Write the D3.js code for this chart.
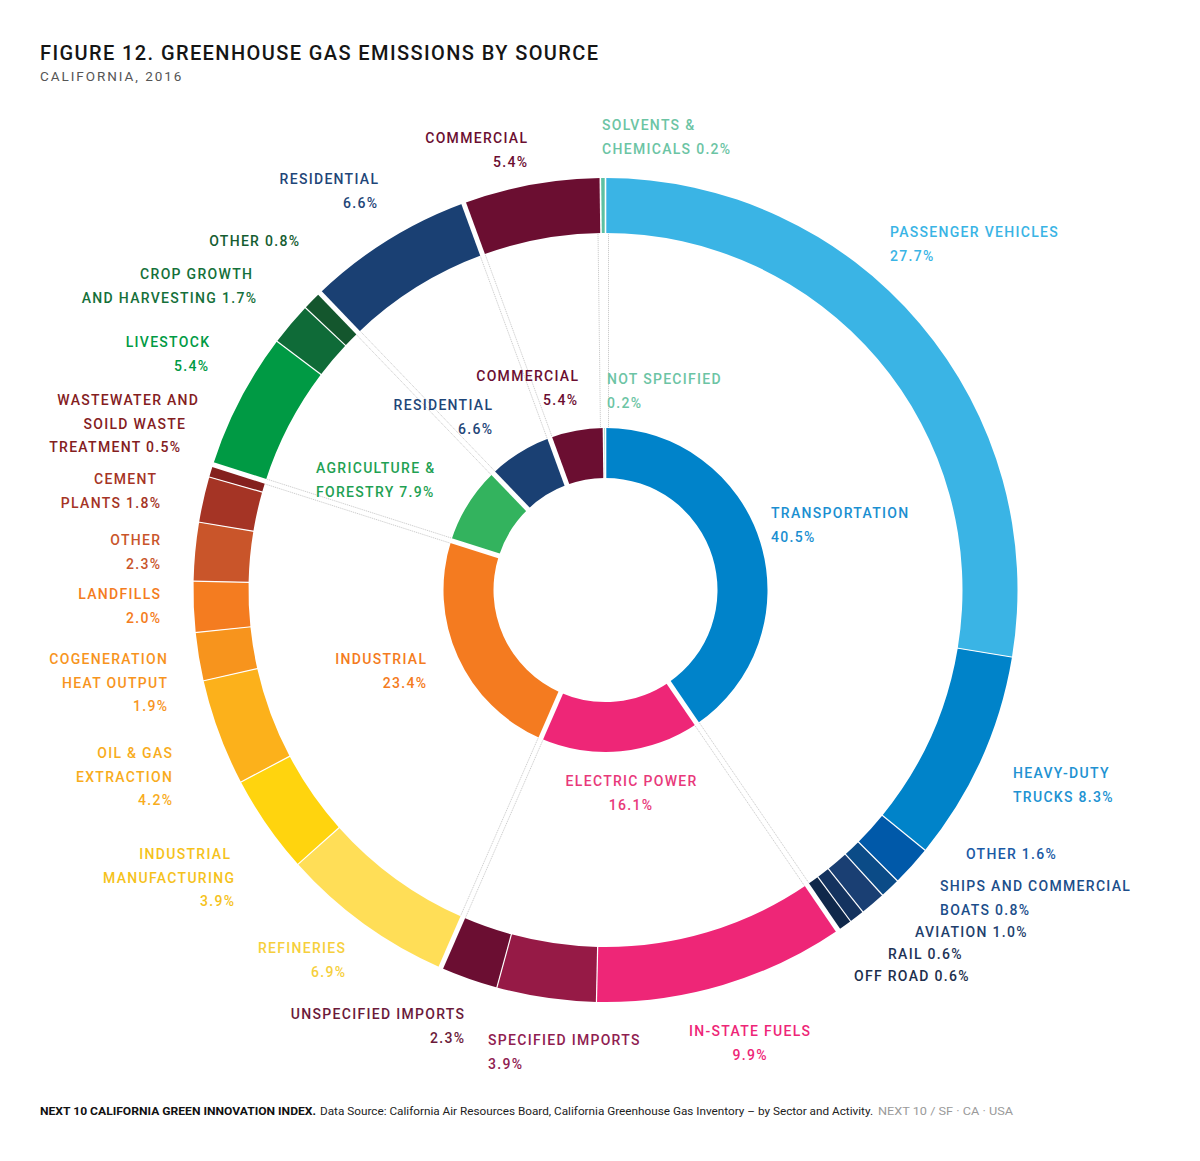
<!DOCTYPE html>
<html><head><meta charset="utf-8">
<script src="https://cdn.jsdelivr.net/npm/d3@7"></script>
<style>body{margin:0;background:#fff} svg{display:block} text{font-family:Roboto,"Noto Sans",sans-serif}</style>
</head><body><svg id="c" width="1200" height="1161"></svg>
<script>
// ---------- DATA ----------
const sectors = ["TRANSPORTATION","ELECTRIC POWER","INDUSTRIAL","AGRICULTURE & FORESTRY","RESIDENTIAL","COMMERCIAL","NOT SPECIFIED"];
const sectorValues = [40.5,16.1,23.4,7.9,6.6,5.4,0.2];
const sectorLabelLines = [["TRANSPORTATION","#"],["ELECTRIC POWER","#"],["INDUSTRIAL","#"],["AGRICULTURE &","FORESTRY #"],["RESIDENTIAL","#"],["COMMERCIAL","#"],["NOT SPECIFIED","#"]];

const sources = ["PASSENGER VEHICLES","HEAVY-DUTY TRUCKS","OTHER","SHIPS AND COMMERCIAL BOATS","AVIATION","RAIL","OFF ROAD",
  "IN-STATE FUELS","SPECIFIED IMPORTS","UNSPECIFIED IMPORTS",
  "REFINERIES","INDUSTRIAL MANUFACTURING","OIL & GAS EXTRACTION","COGENERATION HEAT OUTPUT","LANDFILLS","OTHER","CEMENT PLANTS","WASTEWATER AND SOILD WASTE TREATMENT",
  "LIVESTOCK","CROP GROWTH AND HARVESTING","OTHER","RESIDENTIAL","COMMERCIAL","SOLVENTS & CHEMICALS"];
const sourceValues = [27.7,8.3,1.6,0.8,1.0,0.6,0.6, 9.9,3.9,2.3, 6.9,3.9,4.2,1.9,2.0,2.3,1.8,0.5, 5.4,1.7,0.8, 6.6,5.4,0.2];
const sourceSector = [0,0,0,0,0,0,0, 1,1,1, 2,2,2,2,2,2,2,2, 3,3,3, 4,5,6];
const sourceLabelLines = [["PASSENGER VEHICLES","#"],["HEAVY-DUTY","TRUCKS #"],["OTHER #"],["SHIPS AND COMMERCIAL","BOATS #"],["AVIATION #"],["RAIL #"],["OFF ROAD #"],
  ["IN-STATE FUELS","#"],["SPECIFIED IMPORTS","#"],["UNSPECIFIED IMPORTS","#"],
  ["REFINERIES","#"],["INDUSTRIAL","MANUFACTURING","#"],["OIL & GAS","EXTRACTION","#"],["COGENERATION","HEAT OUTPUT","#"],["LANDFILLS","#"],["OTHER","#"],["CEMENT","PLANTS #"],["WASTEWATER AND","SOILD WASTE","TREATMENT #"],
  ["LIVESTOCK","#"],["CROP GROWTH","AND HARVESTING #"],["OTHER #"],["RESIDENTIAL","#"],["COMMERCIAL","#"],["SOLVENTS &","CHEMICALS #"]];

const titleText = "FIGURE 12. GREENHOUSE GAS EMISSIONS BY SOURCE";
const subtitleText = "CALIFORNIA, 2016";
const footerBold = "NEXT 10 CALIFORNIA GREEN INNOVATION INDEX.";
const footerText = "Data Source: California Air Resources Board, California Greenhouse Gas Inventory \u2013 by Sector and Activity.";
const footerGray = "NEXT 10  /  SF \u00b7 CA \u00b7 USA";

// ---------- STYLE / LAYOUT ----------
const sectorColors = ["#0083ca","#ee2677","#f47b20","#33b35e","#1a4073","#6b0e31","#5dc1a2"];
const sectorTextColors = ["#1b8fd1","#e8397a","#f47b20","#1fa153","#1f4678","#6b0e31","#6cc4a4"];
const sourceColors = ["#3ab4e5","#0083c9","#0059a9","#0b4b87","#1a3f73","#14335f","#10284a",
  "#ee2677","#961a46","#6b0e32",
  "#ffde57","#ffd40e","#fcb11b","#f7941d","#f47c20","#c9552a","#a53425","#84201e",
  "#009a44","#0f6b38","#14562d","#1a4073","#6b0e31","#5dc1a2"];
const sourceTextColors = ["#3ab4e5","#2192d2","#1b5aa5","#1c4e8a","#1f3f6d","#1e3357","#1d2f4d",
  "#ee2677","#8f2050","#6b1a3a",
  "#f6cf3c","#f5c21b","#f8ac1c","#f7941d","#f47c20","#c9552a","#a53425","#84201e",
  "#009a44","#15703a","#155d31","#1f4678","#6b0e31","#6cc4a4"];
const sourceLabelPos = [
  {a:"start",x:[890,890],y:231},{a:"start",x:[1013,1013],y:772},{a:"start",x:[966],y:853},{a:"start",x:[940,940],y:885},
  {a:"start",x:[915],y:931},{a:"start",x:[888],y:953},{a:"start",x:[854],y:975},
  {a:"middle",x:[749.5,749.5],y:1030},{a:"start",x:[488,488],y:1039},{a:"end",x:[464,464],y:1013},
  {a:"end",x:[345,345],y:947},{a:"end",x:[230,234,234],y:853},{a:"end",x:[172,172,172],y:752},{a:"end",x:[167,167,167],y:658},
  {a:"end",x:[160,160],y:593},{a:"end",x:[160,160],y:539},{a:"end",x:[156,160],y:478},{a:"end",x:[198,185,180],y:399},
  {a:"end",x:[209,208],y:341},{a:"end",x:[252,256],y:273},{a:"end",x:[299],y:240},{a:"end",x:[378,377],y:178},
  {a:"end",x:[527,527],y:137},{a:"start",x:[602,602],y:124}];
const sectorLabelPos = [
  {a:"start",x:[771,771],y:512},{a:"middle",x:[631,630.5],y:780},{a:"end",x:[426,426],y:658},{a:"start",x:[316,316],y:467},
  {a:"end",x:[492,492],y:404},{a:"end",x:[578,577],y:375},{a:"start",x:[607,607],y:378}];

const W = 1200, H = 1161, cx = 605.5, cy = 590;
const rIn0 = 112, rIn1 = 162, rOut0 = 357, rOut1 = 412;
const LINE = 23.5, FS = 14, LS = 1.3;

// ---------- DRAW ----------
const svg = d3.select("#c");
svg.append("rect").attr("width",W).attr("height",H).attr("fill","#fff");

svg.append("text").attr("x",40).attr("y",60).attr("font-size",20).attr("font-weight",500)
  .attr("letter-spacing",1.4).attr("fill","#151515").text(titleText);
svg.append("text").attr("x",40).attr("y",81).attr("font-size",13.5).attr("font-weight",400)
  .attr("letter-spacing",1.95).attr("fill","#555").text(subtitleText);

const g = svg.append("g").attr("transform",`translate(${cx},${cy})`);

const pie = d3.pie().sort(null).value(d => d.v);
const sectorData = sectors.map((s,i)=>({name:s,v:sectorValues[i],i}));
const sectorArcs = pie(sectorData);

// outer arcs: subdivide each sector's angle by its sources
let outerArcs = [];
sectorArcs.forEach((sa,si)=>{
  const subs = sources.map((s,i)=>({name:s,v:sourceValues[i],i})).filter(d=>sourceSector[d.i]===si);
  const sub = d3.pie().sort(null).value(d=>d.v).startAngle(sa.startAngle).endAngle(sa.endAngle)(subs);
  outerArcs = outerArcs.concat(sub);
});

const arcIn = d3.arc().innerRadius(rIn0).outerRadius(rIn1);
const arcOut = d3.arc().innerRadius(rOut0).outerRadius(rOut1);

g.selectAll("path.in").data(sectorArcs).join("path").attr("class","in")
  .attr("d",arcIn).attr("fill",d=>sectorColors[d.data.i]);
g.selectAll("path.out").data(outerArcs).join("path").attr("class","out")
  .attr("d",arcOut).attr("fill",d=>sourceColors[d.data.i]);

const pt = (a,r,o=0)=>[r*Math.sin(a)+o*Math.cos(a), -r*Math.cos(a)+o*Math.sin(a)];

// sub-slice separators (thin white)
outerArcs.forEach((d,k)=>{
  if (k===0) return;
  const prev = outerArcs[k-1];
  if (sourceSector[prev.data.i]!==sourceSector[d.data.i]) return;
  const a = d.startAngle, p0 = pt(a,rOut0-1), p1 = pt(a,rOut1+1);
  g.append("line").attr("x1",p0[0]).attr("y1",p0[1]).attr("x2",p1[0]).attr("y2",p1[1])
    .attr("stroke","#fff").attr("stroke-width",1.2);
});

// sector gaps (white) and connector lines
const last = sectors.length-1;
sectorArcs.forEach((d,k)=>{
  const a = d.startAngle;
  const nearTeal = (k===last || k===0);
  const w = nearTeal ? 1.6 : 5;
  [[rIn0-1,rIn1+1],[rOut0-1,rOut1+1]].forEach(([r0,r1])=>{
    const p0 = pt(a,r0), p1 = pt(a,r1);
    g.append("line").attr("x1",p0[0]).attr("y1",p0[1]).attr("x2",p1[0]).attr("y2",p1[1])
      .attr("stroke","#fff").attr("stroke-width",w);
  });
  let offs = nearTeal ? (k===last ? [-3] : [3]) : [-2.6,2.6];
  offs.forEach(o=>{
    const p0 = pt(a,rIn1+1,o), p1 = pt(a,rOut0-1,o);
    g.append("line").attr("x1",p0[0]).attr("y1",p0[1]).attr("x2",p1[0]).attr("y2",p1[1])
      .attr("stroke","#b8b8b8").attr("stroke-width",0.7).attr("stroke-dasharray","1.2,0.8");
  });
});

// labels
function drawLabel(lines, pos, color, value){
  const t = svg.append("text").attr("font-size",FS).attr("font-weight",500)
    .attr("letter-spacing",LS).attr("fill",color).attr("text-anchor",pos.a);
  lines.forEach((ln,j)=>{
    const shift = pos.a==="end" ? LS : (pos.a==="middle" ? LS/2 : 0);
    t.append("tspan").attr("x",pos.x[j]+shift).attr("y",pos.y+6+j*LINE)
      .text(ln.replace("#",value.toFixed(1)+"%"));
  });
}
sourceLabelLines.forEach((lines,i)=>drawLabel(lines,sourceLabelPos[i],sourceTextColors[i],sourceValues[i]));
sectorLabelLines.forEach((lines,i)=>drawLabel(lines,sectorLabelPos[i],sectorTextColors[i],sectorValues[i]));

// footer
svg.append("text").attr("x",40).attr("y",1115).attr("font-size",11).attr("font-weight",700)
  .attr("fill","#111").attr("textLength",276).attr("lengthAdjust","spacingAndGlyphs").text(footerBold);
svg.append("text").attr("x",320).attr("y",1115).attr("font-size",11).attr("font-weight",400)
  .attr("fill","#222").attr("textLength",553).attr("lengthAdjust","spacingAndGlyphs").text(footerText);
svg.append("text").attr("x",878).attr("y",1115).attr("font-size",11).attr("font-weight",400)
  .attr("fill","#9a9a9a").attr("textLength",135).attr("lengthAdjust","spacingAndGlyphs").text(footerGray);
</script></body></html>
